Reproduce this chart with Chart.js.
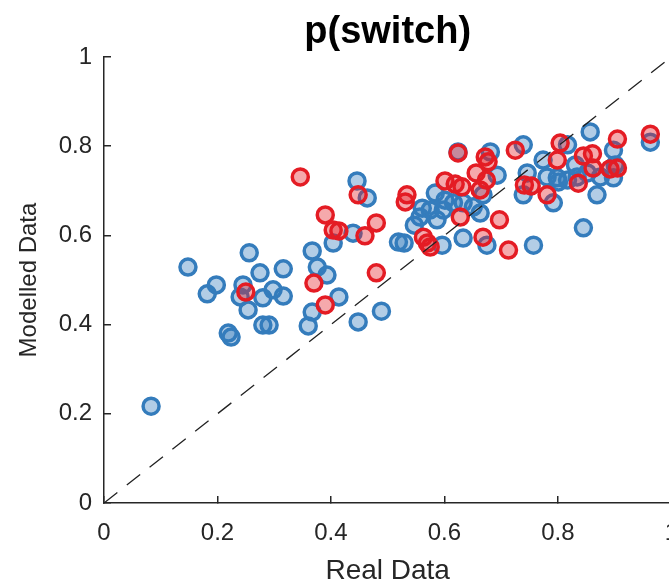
<!DOCTYPE html>
<html>
<head>
<meta charset="utf-8">
<script src="https://cdn.jsdelivr.net/npm/chart.js@4.4.1/dist/chart.umd.min.js"></script>
<style>
  html, body { margin: 0; padding: 0; background: #fff; overflow: hidden; }
  #wrap { width: 669px; height: 588px; overflow: hidden; position: relative; }
  #c { position: absolute; left: 0; top: 0; }
</style>
</head>
<body>
<div id="wrap"><canvas id="c" width="701" height="588"></canvas></div>
<script>
const chartTitle = 'p(switch)';
const xTitle = 'Real Data';
const yTitle = 'Modelled Data';
const tickValues = [0, 0.2, 0.4, 0.6, 0.8, 1];
const tickLabels = ['0', '0.2', '0.4', '0.6', '0.8', '1'];

const blueX = [0.083,0.148,0.182,0.198,0.256,0.245,0.240,0.275,0.254,0.280,0.298,0.316,0.316,0.219,0.224,0.280,0.291,0.376,0.393,0.367,0.404,0.439,0.446,0.464,0.414,0.367,0.360,0.448,0.489,0.519,0.529,0.547,0.561,0.584,0.587,0.598,0.596,0.616,0.633,0.651,0.663,0.575,0.557,0.624,0.681,0.739,0.857,0.963,0.774,0.817,0.898,0.693,0.746,0.781,0.799,0.817,0.834,0.852,0.875,0.898,0.739,0.792,0.869,0.845,0.757,0.675,0.633,0.831,0.801,0.901,0.601,0.668];
const blueY = [0.217,0.529,0.469,0.489,0.561,0.489,0.462,0.516,0.433,0.460,0.478,0.464,0.525,0.381,0.372,0.399,0.399,0.529,0.511,0.565,0.583,0.605,0.722,0.684,0.462,0.428,0.397,0.406,0.430,0.585,0.583,0.623,0.661,0.695,0.635,0.657,0.578,0.673,0.673,0.664,0.650,0.657,0.641,0.787,0.787,0.803,0.832,0.809,0.769,0.803,0.791,0.735,0.740,0.731,0.729,0.724,0.731,0.740,0.731,0.729,0.691,0.673,0.691,0.617,0.578,0.578,0.594,0.758,0.720,0.758,0.679,0.691];

const redX = [0.346,0.250,0.370,0.390,0.448,0.390,0.404,0.414,0.480,0.460,0.534,0.531,0.563,0.570,0.575,0.480,0.601,0.624,0.672,0.677,0.725,0.804,0.905,0.963,0.799,0.845,0.861,0.862,0.892,0.905,0.619,0.631,0.656,0.674,0.663,0.741,0.753,0.781,0.836,0.628,0.697,0.668,0.713];
const redY = [0.731,0.473,0.493,0.444,0.691,0.646,0.612,0.610,0.628,0.599,0.691,0.675,0.596,0.583,0.574,0.516,0.722,0.785,0.776,0.765,0.791,0.807,0.816,0.827,0.769,0.778,0.783,0.751,0.749,0.751,0.715,0.709,0.740,0.724,0.702,0.713,0.711,0.691,0.717,0.641,0.635,0.596,0.567];

const identityX = [0, 1];
const identityY = [0, 1];

const toPts = (xs, ys) => xs.map((x, i) => ({ x: x, y: ys[i] }));

const AXIS = '#262626';
const FONT = '"Liberation Sans", Arial, Helvetica, sans-serif';

const titlePlugin = {
  id: 'centeredTitle',
  afterDraw(chart) {
    const { ctx, chartArea } = chart;
    ctx.save();
    ctx.fillStyle = '#000';
    ctx.font = 'bold 38px ' + FONT;
    ctx.textAlign = 'center';
    ctx.textBaseline = 'middle';
    ctx.fillText(chartTitle, (chartArea.left + chartArea.right) / 2, 33);
    ctx.restore();
  }
};

new Chart(document.getElementById('c'), {
  type: 'scatter',
  data: {
    datasets: [
      {
        label: 'identity',
        data: toPts(identityX, identityY),
        showLine: true,
        borderColor: '#222',
        borderWidth: 1.3,
        borderDash: [17, 12],
        pointRadius: 0,
        pointHoverRadius: 0,
        fill: false
      },
      {
        label: 'red',
        data: toPts(redX, redY),
        pointRadius: 8,
        pointHoverRadius: 8,
        borderWidth: 3.5,
        borderColor: 'rgb(228,28,36)',
        backgroundColor: 'rgba(228,28,36,0.38)'
      },
      {
        label: 'blue',
        data: toPts(blueX, blueY),
        pointRadius: 8,
        pointHoverRadius: 8,
        borderWidth: 3.5,
        borderColor: 'rgb(52,124,188)',
        backgroundColor: 'rgba(52,124,188,0.38)'
      }
    ]
  },
  options: {
    responsive: false,
    animation: false,
    devicePixelRatio: 1,
    layout: { padding: { top: 57, right: 9, left: 0, bottom: 0 } },
    plugins: {
      legend: { display: false },
      title: { display: false },
      tooltip: { enabled: false }
    },
    scales: {
      x: {
        type: 'linear',
        min: 0, max: 1,
        afterBuildTicks: (s) => { s.ticks = tickValues.map(v => ({ value: v })); },
        afterFit: (s) => { s.height = 85; },
        grid: { drawOnChartArea: false, drawTicks: true, tickLength: -7, color: AXIS, lineWidth: 1.5 },
        border: { display: true, color: AXIS, width: 1.5 },
        ticks: {
          padding: 23,
          color: '#262626',
          font: { family: FONT, size: 24 },
          maxRotation: 0,
          callback: (v) => { const i = tickValues.indexOf(v); return i >= 0 ? tickLabels[i] : ''; }
        },
        title: {
          display: true, text: xTitle, color: '#262626',
          font: { family: FONT, size: 28 },
          padding: { top: 0, bottom: 0 }
        }
      },
      y: {
        type: 'linear',
        min: 0, max: 1,
        afterBuildTicks: (s) => { s.ticks = tickValues.map(v => ({ value: v })); },
        afterFit: (s) => { s.width = 104; },
        grid: { drawOnChartArea: false, drawTicks: true, tickLength: -7, color: AXIS, lineWidth: 1.5 },
        border: { display: true, color: AXIS, width: 1.5 },
        ticks: {
          padding: 19,
          color: '#262626',
          font: { family: FONT, size: 24 },
          callback: (v) => { const i = tickValues.indexOf(v); return i >= 0 ? tickLabels[i] : ''; }
        },
        title: {
          display: true, text: yTitle, color: '#262626',
          font: { family: FONT, size: 24 },
          padding: { top: 15, bottom: 0 }
        }
      }
    }
  },
  plugins: [titlePlugin]
});
</script>
</body>
</html>
